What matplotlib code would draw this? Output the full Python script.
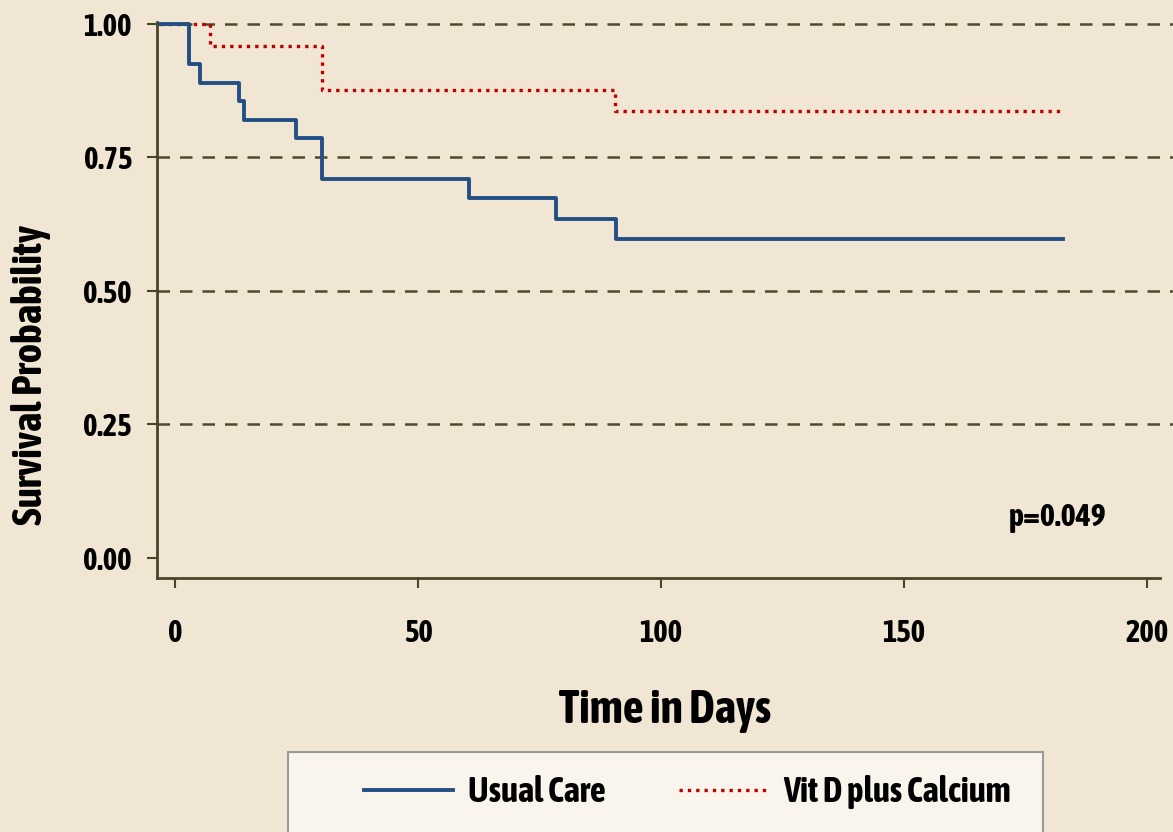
import matplotlib
matplotlib.use("Agg")
import matplotlib.pyplot as plt
from matplotlib.patches import Rectangle
from matplotlib import font_manager as fm
import matplotlib.patheffects as pe

# look for a condensed face (bold if there is one), else plain DejaVu
narrow = [f for f in fm.fontManager.ttflist if 'Condensed' in f.name or 'Narrow' in f.name]
bold_narrow = sorted({f.name for f in narrow if f.weight in ('bold', 700, 800, 900)
                      or (isinstance(f.weight, int) and f.weight >= 600)})
any_narrow = sorted({f.name for f in narrow})
pick = (bold_narrow or any_narrow)[:1]
plt.rcParams['font.family'] = pick + ['DejaVu Sans']
plt.rcParams['font.weight'] = 'bold'
condensed = bool(pick)
# thicken glyphs a little when no bold condensed face exists
fx = [] if bold_narrow else [pe.withStroke(linewidth=1.1, foreground='black')]

# Kaplan-Meier step data
usual_t = [-3, 2.9, 5.1, 13.2, 14.1, 24.8, 30.3, 60.4, 78.3, 90.7, 182.7]
usual_s = [1.0, 0.925, 0.890, 0.856, 0.821, 0.786, 0.709, 0.674, 0.635, 0.598, 0.598]
vitd_t = [-3, 7.3, 30.2, 90.5, 182.7]
vitd_s = [1.0, 0.959, 0.877, 0.837, 0.837]

yticks = [0.00, 0.25, 0.50, 0.75, 1.00]
xticks = [0, 50, 100, 150, 200]
p_text = "p=0.049"

bg = '#F0E6D3'
axis_col = '#4B4526'
blue = '#234F85'
red = '#C00000'

fig = plt.figure(figsize=(11.73, 8.32), dpi=100, facecolor=bg)
ax = fig.add_axes([157 / 1173, 254 / 832, 1016 / 1173, 556 / 832], facecolor=bg)

for yv in yticks[1:]:
    ax.axhline(yv, color='#4F4A28', lw=1.8, ls=(0, (5, 4)), zorder=1)

ax.step(vitd_t, vitd_s, where='post', color=red, lw=2.4, ls=(0, (1, 1.5)),
        label='Vit D plus Calcium', zorder=2)
ax.step(usual_t, usual_s, where='post', color=blue, lw=2.8,
        label='Usual Care', zorder=3)

ax.set_xlim(-3.7, 205.3)
ax.set_ylim(-0.0375, 1.0037)
ax.set_xticks(xticks)
ax.set_yticks(yticks)
ax.set_yticklabels([f"{v:.2f}" for v in yticks])

for s in ['top', 'right']:
    ax.spines[s].set_visible(False)
for s in ['left', 'bottom']:
    ax.spines[s].set_color(axis_col)
    ax.spines[s].set_linewidth(2)
ax.spines['bottom'].set_bounds(-3.7, 202.7)

tick_fs = 22 if condensed else 17
ax.tick_params(axis='y', direction='out', length=7, width=1.5, color=axis_col,
               pad=11, labelsize=tick_fs)
ax.tick_params(axis='x', direction='out', length=7, width=1.5, color=axis_col,
               pad=22, labelsize=tick_fs)
for lab in ax.get_xticklabels() + ax.get_yticklabels():
    lab.set_path_effects(fx)

ax.text(191.4, 0.075, p_text, ha='right', va='center',
        fontsize=23 if condensed else 18, fontweight='bold', path_effects=fx)

fig.text(665 / 1173, 1 - 710 / 832, 'Time in Days', ha='center', va='center',
         fontsize=33 if condensed else 26, fontweight='bold', path_effects=fx)
fig.text(31 / 1173, 1 - 375 / 832, 'Survival Probability', ha='center', va='center',
         rotation=90, fontsize=30 if condensed else 20, fontweight='bold', path_effects=fx)

# legend box, cut off at the bottom like the original
fig.patches.append(Rectangle((288 / 1173, -0.05), (1043 - 288) / 1173, 0.05 + 80 / 832,
                             transform=fig.transFigure, facecolor='#F9F4EC',
                             edgecolor='#9A9A9A', lw=1.5, zorder=0))
handles, labels = ax.get_legend_handles_labels()
leg = fig.legend(handles[::-1], labels[::-1], ncol=2, frameon=False,
                 loc='center left', bbox_to_anchor=(364 / 1173, 1 - 792 / 832),
                 fontsize=25 if condensed else 19, handlelength=2.55 if condensed else 3.3,
                 handletextpad=0.45, columnspacing=2.1, borderpad=0, borderaxespad=0)
for t in leg.get_texts():
    t.set_path_effects(fx)

fig.savefig('out.png', dpi=100, facecolor=bg)
